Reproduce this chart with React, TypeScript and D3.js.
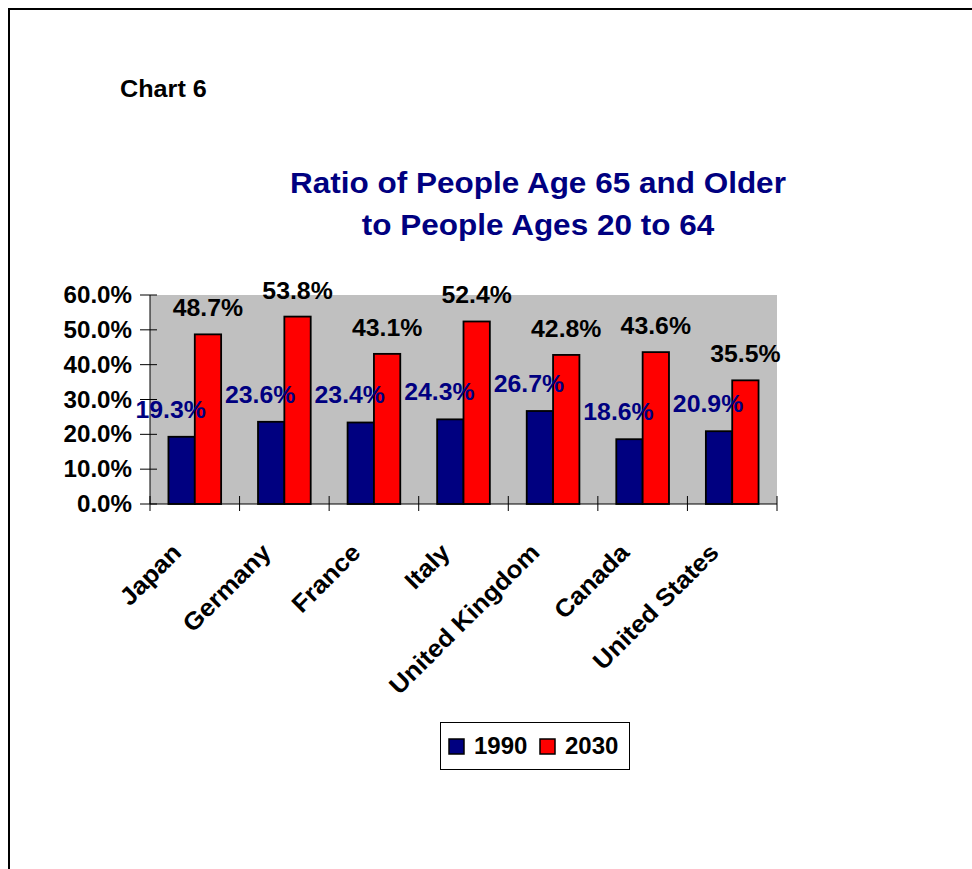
import React from "react";
import * as d3 from "d3";

const countries = ["Japan", "Germany", "France", "Italy", "United Kingdom", "Canada", "United States"];
const seriesNames = ["1990", "2030"];
const values1990 = [19.3, 23.6, 23.4, 24.3, 26.7, 18.6, 20.9];
const values2030 = [48.7, 53.8, 43.1, 52.4, 42.8, 43.6, 35.5];
const yTicks = [0, 10, 20, 30, 40, 50, 60];
const seriesColors = ["#000080", "#ff0000"];
const titleLines = ["Ratio of People Age 65 and Older", "to People Ages 20 to 64"];

const W = 972;
const H = 869;
const FONT = "'Liberation Sans', Arial, sans-serif";

export default function App() {
  const plot = { left: 150, right: 777, top: 295, bottom: 504 };
  const x = d3.scaleBand<string>().domain(countries).range([plot.left, plot.right]).padding(0);
  const bw = x.bandwidth();
  const groupW = bw / 1.7;
  const x1 = d3.scaleBand<string>().domain(seriesNames).range([(bw - groupW) / 2, (bw + groupW) / 2]).padding(0);
  const y = d3.scaleLinear().domain([0, 60]).range([plot.bottom, plot.top]);
  const series = [values1990, values2030];

  return (
    <svg width={W} height={H} style={{ position: "absolute", left: 0, top: 0 }} fontFamily={FONT} fontWeight="bold">
      <rect x={0} y={0} width={W} height={H} fill="#ffffff" />
      <rect x={9} y={9} width={W + 20} height={H + 20} fill="none" stroke="#000" strokeWidth={2} />

      <text transform="translate(120,97) scale(1.05,1)" fontSize={24} fill="#000">Chart 6</text>

      {titleLines.map((t, i) => (
        <text key={i} transform={`translate(538,${193 + i * 42}) scale(1.05,1)`} textAnchor="middle" fontSize={30} fill="#000080">{t}</text>
      ))}

      <rect x={plot.left} y={plot.top} width={plot.right - plot.left} height={plot.bottom - plot.top} fill="#c0c0c0" />

      {series.map((vals, si) =>
        vals.map((v, ci) => (
          <rect
            key={`${si}-${ci}`}
            x={(x(countries[ci]) as number) + (x1(seriesNames[si]) as number)}
            y={y(v)}
            width={x1.bandwidth()}
            height={y(0) - y(v)}
            fill={seriesColors[si]}
            stroke="#000"
            strokeWidth={1.8}
          />
        ))
      )}

      {/* axes */}
      <line x1={plot.left} x2={plot.left} y1={plot.top} y2={plot.bottom} stroke="#000" strokeWidth={1} />
      <line x1={plot.left} x2={plot.right} y1={plot.bottom} y2={plot.bottom} stroke="#000" strokeWidth={1} />
      {yTicks.map((t) => (
        <g key={t}>
          <line x1={plot.left - 10} x2={plot.left + 7} y1={y(t)} y2={y(t)} stroke="#000" strokeWidth={1} />
          <text transform={`translate(132,${y(t) + 8}) scale(1.05,1)`} textAnchor="end" fontSize={23} fill="#000">{`${t.toFixed(1)}%`}</text>
        </g>
      ))}
      {d3.range(countries.length + 1).map((i) => {
        const xx = plot.left + i * bw;
        return <line key={i} x1={xx} x2={xx} y1={plot.bottom - 8} y2={plot.bottom + 7} stroke="#000" strokeWidth={1} />;
      })}

      {countries.map((c) => {
        const cx = (x(c) as number) + bw / 2;
        return (
          <text key={c} transform={`translate(${cx - 12},554) rotate(-45) scale(1.06,1)`} textAnchor="end" fontSize={24.5} fill="#000">{c}</text>
        );
      })}

      {/* value labels */}
      {values1990.map((v, ci) => {
        const bx = (x(countries[ci]) as number) + (x1("1990") as number) + x1.bandwidth() / 2;
        return (
          <text key={`l1-${ci}`} transform={`translate(${bx - 11},${y(v) - 19}) scale(1.08,1)`} textAnchor="middle" fontSize={23} fill="#000080">{`${v.toFixed(1)}%`}</text>
        );
      })}
      {values2030.map((v, ci) => {
        const bx = (x(countries[ci]) as number) + (x1("2030") as number) + x1.bandwidth() / 2;
        return (
          <text key={`l2-${ci}`} transform={`translate(${bx},${y(v) - 18}) scale(1.08,1)`} textAnchor="middle" fontSize={23} fill="#000">{`${v.toFixed(1)}%`}</text>
        );
      })}

      {/* legend */}
      <rect x={440.5} y={722.5} width={189} height={47} fill="#fff" stroke="#000" strokeWidth={1} />
      {seriesNames.map((s, i) => (
        <g key={s} transform={`translate(${449 + i * 91},739)`}>
          <rect x={0} y={0} width={15} height={15} fill={seriesColors[i]} stroke="#000" strokeWidth={1.5} />
          <text x={25} y={15} fontSize={24} fill="#000">{s}</text>
        </g>
      ))}
    </svg>
  );
}
